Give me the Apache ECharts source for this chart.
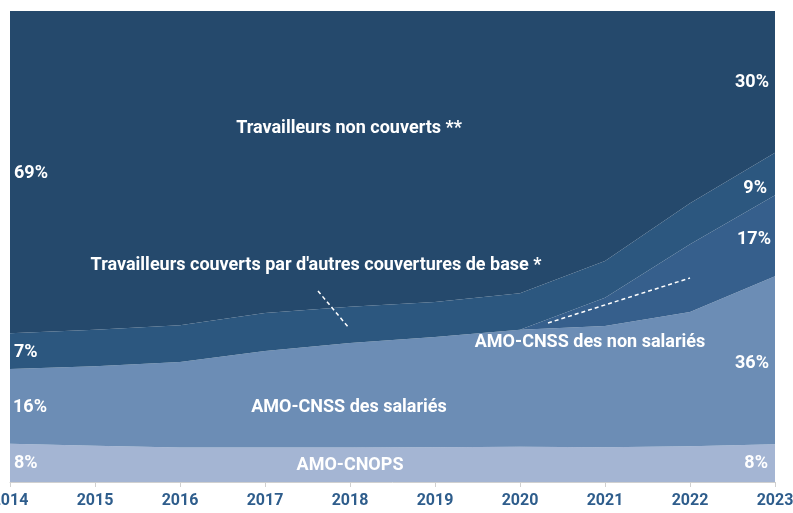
<!DOCTYPE html>
<html>
<head>
<meta charset="utf-8">
<script src="https://cdn.jsdelivr.net/npm/echarts@6/dist/echarts.min.js"></script>
<style>
  html, body { margin: 0; padding: 0; background: #fff; }
  #main { width: 793px; height: 513px; }
</style>
</head>
<body>
<div id="main"></div>
<script>
// années
const years = ['2014', '2015', '2016', '2017', '2018', '2019', '2020', '2021', '2022', '2023']
// parts en % (empilées de bas en haut)
const cnops = [8.1, 7.7, 7.3, 7.3, 7.3, 7.4, 7.5, 7.4, 7.6, 8.0]
const cnssSalaries = [15.9, 16.9, 18.2, 20.5, 22.2, 23.4, 24.8, 25.7, 28.5, 35.7]
const cnssNonSalaries = [0, 0, 0, 0, 0, 0, 0, 6.0, 14.4, 17.2]
const autresCouvertures = [7.6, 7.7, 7.8, 8.1, 7.7, 7.4, 7.8, 7.8, 8.7, 9.0]
const nonCouverts = [68.4, 67.7, 66.7, 64.1, 62.8, 61.8, 59.9, 53.1, 40.8, 30.1]

const font = 'Roboto'
const colors = ['#a4b5d3', '#6c8db5', '#365f8c', '#2c577f', '#25496c']

function areaSeries (name, data, color) {
  return {
    name: name,
    type: 'line',
    stack: 'total',
    data: data,
    symbol: 'none',
    lineStyle: { width: 0 },
    areaStyle: { color: color, opacity: 1 },
    emphasis: { disabled: true }
  }
}

// textes blancs posés sur le graphique
function txt (x, y, text, align) {
  return {
    type: 'text',
    x: x,
    y: y,
    style: {
      text: text,
      fill: '#ffffff',
      font: 'bold 18px ' + font,
      align: align || 'center',
      verticalAlign: 'middle'
    },
    z: 100
  }
}

function dashed (x1, y1, x2, y2) {
  return {
    type: 'line',
    shape: { x1: x1, y1: y1, x2: x2, y2: y2 },
    style: { stroke: '#ffffff', lineWidth: 1.5, lineDash: [4, 3] },
    z: 100
  }
}

const chart = echarts.init(document.getElementById('main'))
chart.setOption({
  animation: false,
  grid: { left: 10, right: 18, top: 11, bottom: 31, outerBoundsMode: 'none', containLabel: false },
  xAxis: {
    type: 'category',
    data: years,
    boundaryGap: false,
    axisLine: { lineStyle: { color: '#d0d0d0' } },
    axisTick: { show: true, length: 5, lineStyle: { color: '#d0d0d0' } },
    axisLabel: { color: '#2e5d8c', fontFamily: font, fontWeight: 'bold', fontSize: 16, margin: 11 }
  },
  yAxis: {
    type: 'value',
    min: 0,
    max: 100,
    show: false
  },
  series: [
    areaSeries('AMO-CNOPS', cnops, colors[0]),
    areaSeries('AMO-CNSS des salariés', cnssSalaries, colors[1]),
    areaSeries('AMO-CNSS des non salariés', cnssNonSalaries, colors[2]),
    areaSeries("Travailleurs couverts par d'autres couvertures de base *", autresCouvertures, colors[3]),
    areaSeries('Travailleurs non couverts **', nonCouverts, colors[4])
  ],
  graphic: [
    txt(349, 128, 'Travailleurs non couverts **'),
    txt(316, 265, "Travailleurs couverts par d'autres couvertures de base *"),
    txt(590, 342, 'AMO-CNSS des non salariés'),
    txt(349, 407, 'AMO-CNSS des salariés'),
    txt(350, 465, 'AMO-CNOPS'),
    txt(14, 173, '69%', 'left'),
    txt(14, 352, '7%', 'left'),
    txt(13, 407, '16%', 'left'),
    txt(14, 463, '8%', 'left'),
    txt(769, 82, '30%', 'right'),
    txt(767, 188, '9%', 'right'),
    txt(771, 239, '17%', 'right'),
    txt(769, 363, '36%', 'right'),
    txt(768, 463, '8%', 'right'),
    dashed(318, 291, 349, 328),
    dashed(548, 323, 690, 278)
  ]
})
</script>
</body>
</html>
